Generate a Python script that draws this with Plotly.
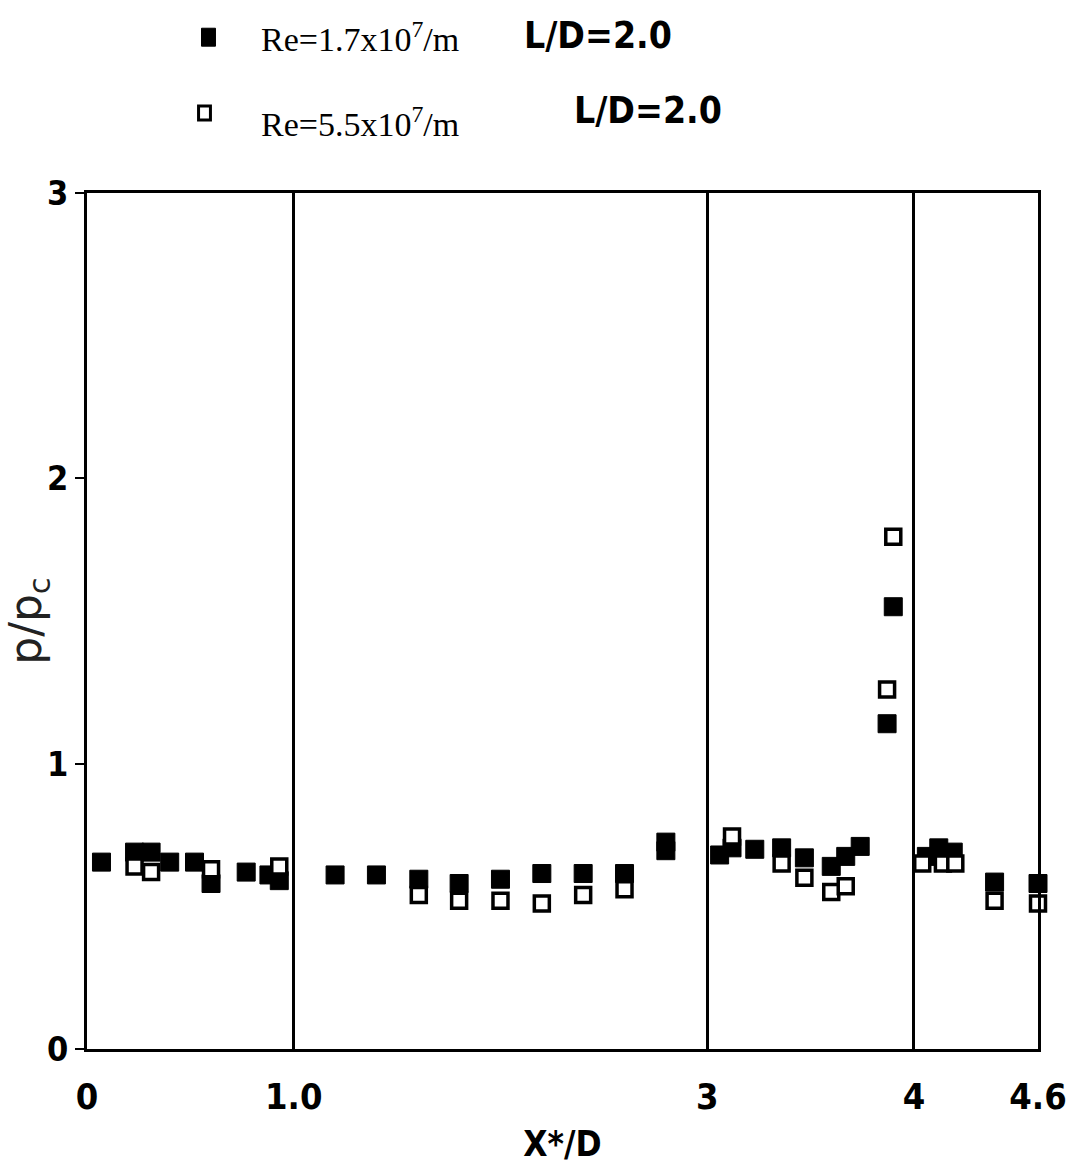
import plotly.graph_objects as go

# Pressure ratio p/pc along the body, two unit Reynolds numbers (L/D = 2.0)
x_re17 = [0.07, 0.23, 0.31, 0.40, 0.52, 0.60, 0.77, 0.88, 0.93,
          1.20, 1.40, 1.605, 1.80, 2.00, 2.20, 2.40, 2.60, 2.80, 2.80,
          3.06, 3.12, 3.23, 3.36, 3.47, 3.60, 3.67, 3.74,
          3.87, 3.90,
          4.06, 4.12, 4.19, 4.39, 4.60]
p_re17 = [0.655, 0.69, 0.69, 0.655, 0.655, 0.58, 0.62, 0.61, 0.59,
          0.61, 0.61, 0.595, 0.58, 0.595, 0.615, 0.615, 0.615, 0.725, 0.695,
          0.68, 0.705, 0.70, 0.705, 0.67, 0.64, 0.675, 0.71,
          1.14, 1.55,
          0.675, 0.705, 0.69, 0.585, 0.58]

x_re55 = [0.23, 0.31, 0.60, 0.93,
          1.605, 1.80, 2.00, 2.20, 2.40, 2.60,
          3.12, 3.36, 3.47, 3.60, 3.67,
          3.87, 3.90,
          4.04, 4.14, 4.20, 4.39, 4.60]
p_re55 = [0.64, 0.62, 0.63, 0.64,
          0.54, 0.52, 0.52, 0.51, 0.54, 0.56,
          0.745, 0.65, 0.60, 0.55, 0.57,
          1.26, 1.795,
          0.65, 0.65, 0.65, 0.52, 0.51]

x_tickvals = [0, 1.0, 3, 4, 4.6]
x_ticktext = ["0", "1.0", "3", "4", "4.6"]
y_tickvals = [0, 1, 2, 3]
y_ticktext = ["0", "1", "2", "3"]

legend_re = ["Re=1.7x10<sup>7</sup>/m", "Re=5.5x10<sup>7</sup>/m"]
legend_ld = ["L/D=2.0", "L/D=2.0"]

BOLD = "DejaVu Sans Condensed, Liberation Sans Narrow, DejaVu Sans, sans-serif"
SERIF = "Liberation Serif, DejaVu Serif, Times New Roman, serif"

fig = go.Figure()
fig.add_trace(go.Scatter(
    x=x_re17, y=p_re17, mode="markers", name=legend_re[0],
    marker=dict(symbol="square", size=18, color="black",
                line=dict(color="black", width=1)),
    cliponaxis=False,
))
fig.add_trace(go.Scatter(
    x=x_re55, y=p_re55, mode="markers", name=legend_re[1],
    marker=dict(symbol="square", size=15, color="white",
                line=dict(color="black", width=3.5)),
    cliponaxis=False,
))

# Legend drawn as icons + text above the frame
fig.add_shape(type="rect", xref="paper", yref="paper",
              x0=0.1204, x1=0.1351, y0=1.1715, y1=1.1925,
              fillcolor="black", line=dict(color="black", width=1))
fig.add_shape(type="rect", xref="paper", yref="paper",
              x0=0.1173, x1=0.1298, y0=1.0852, y1=1.1015,
              fillcolor="white", line=dict(color="black", width=3))

fig.add_annotation(xref="paper", yref="paper", x=0.1812, y=1.182,
                   xanchor="left", yanchor="middle", showarrow=False,
                   text=legend_re[0], font=dict(family=SERIF, size=34, color="black"))
fig.add_annotation(xref="paper", yref="paper", x=0.1812, y=1.083,
                   xanchor="left", yanchor="middle", showarrow=False,
                   text=legend_re[1], font=dict(family=SERIF, size=34, color="black"))
fig.add_annotation(xref="paper", yref="paper", x=(522 - 85) / 955, y=(1050 - 35) / 857,
                   xanchor="left", yanchor="middle", showarrow=False,
                   text="<b>" + legend_ld[0] + "</b>",
                   font=dict(family=BOLD, size=37, color="black"))
fig.add_annotation(xref="paper", yref="paper", x=(572 - 85) / 955, y=(1050 - 110) / 857,
                   xanchor="left", yanchor="middle", showarrow=False,
                   text="<b>" + legend_ld[1] + "</b>",
                   font=dict(family=BOLD, size=37, color="black"))

fig.update_layout(
    width=1079, height=1170,
    margin=dict(l=85, r=39, t=193, b=120),
    paper_bgcolor="white", plot_bgcolor="white",
    showlegend=False,
    xaxis=dict(
        range=[0, 4.6], tickmode="array", tickvals=x_tickvals, ticktext=x_ticktext,
        showgrid=True, gridcolor="black", gridwidth=2.5,
        showline=True, linecolor="black", linewidth=3, mirror=True,
        ticks="", zeroline=False,
        tickfont=dict(family=BOLD, size=36, color="black", weight="bold"),
        ticklabelstandoff=14,
        title=dict(text="<b>X*/D</b>", font=dict(family=BOLD, size=35, color="black"),
                   standoff=16),
    ),
    yaxis=dict(
        range=[0, 3], tickmode="array", tickvals=y_tickvals, ticktext=y_ticktext,
        showgrid=False, zeroline=False,
        showline=True, linecolor="black", linewidth=3, mirror=True,
        ticks="outside", ticklen=9, tickwidth=2, tickcolor="black",
        tickfont=dict(family=BOLD, size=34, color="black", weight="bold"),
        title=dict(text="p/p<sub>c</sub>", font=dict(family="DejaVu Sans, sans-serif",
                                                     size=44, color="#222222"),
                   standoff=4),
    ),
)

fig.write_html("out.html")
